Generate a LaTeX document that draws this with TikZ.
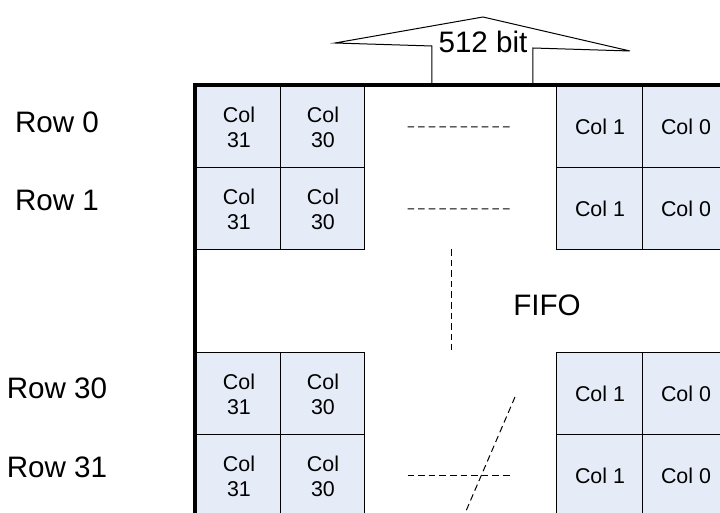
\documentclass[tikz,border=0pt]{standalone}
\usepackage{fontspec}
\setmainfont{Liberation Sans}
\usepackage{tikz}
\usetikzlibrary{positioning,calc}
\definecolor{cellblue}{RGB}{230,236,247}

\begin{document}
\begin{tikzpicture}[
  x=0.5pt, y=-0.5pt,
  cell/.style={draw=black, line width=0.5pt, fill=cellblue, minimum width=42pt, minimum height=41pt, inner sep=0pt, align=center, font=\fontsize{10.7}{12.5}\selectfont},
  wide/.style={minimum width=43pt},
  rowlabel/.style={font=\fontsize{14.8}{17}\selectfont},
  dots/.style={dash pattern=on 3.3pt off 2pt, line width=0.5pt},
  frame/.style={line width=2pt, line join=miter},
  bus/.style={draw, line width=0.5pt, fill=white}
]
\useasboundingbox (0,0) rectangle (720,513);
\clip (0,0) rectangle (720,513);

% row labels
\node[rowlabel] (row0) at (57,122) {Row 0};
\node[rowlabel] (row1) at (57,200) {Row 1};
\node[rowlabel] (row30) at (57,388) {Row 30};
\node[rowlabel] (row31) at (57,467) {Row 31};

% bus arrow on top
\path[bus] (432,85) -- (432,46) -- (335,43) -- (483,17) -- (630,51) -- (533,48) -- (533,85);
\node[rowlabel] (width) at (483,42) {512 bit};

% fifo cells
\node[cell] (r0c31) at (239,127) {Col\\31};
\node[cell] (r0c30) at (323,127) {Col\\30};
\node[cell, wide] (r0c1) at (600,127) {Col 1};
\node[cell, wide] (r0c0) at (686,127) {Col 0};

\node[cell] (r1c31) at (239,209) {Col\\31};
\node[cell] (r1c30) at (323,209) {Col\\30};
\node[cell, wide] (r1c1) at (600,209) {Col 1};
\node[cell, wide] (r1c0) at (686,209) {Col 0};

\node[cell] (r30c31) at (239,394) {Col\\31};
\node[cell] (r30c30) at (323,394) {Col\\30};
\node[cell, wide] (r30c1) at (600,394) {Col 1};
\node[cell, wide] (r30c0) at (686,394) {Col 0};

\node[cell] (r31c31) at (239,476) {Col\\31};
\node[cell] (r31c30) at (323,476) {Col\\30};
\node[cell, wide] (r31c1) at (600,476) {Col 1};
\node[cell, wide] (r31c0) at (686,476) {Col 0};

\node[rowlabel] (fifo) at (547,305) {FIFO};

% skipped columns and rows
\draw[dots] ($(r0c30.east)!0.22!(r0c1.west)$) -- ($(r0c30.east)!0.77!(r0c1.west)$);
\draw[dots] ($(r1c30.east)!0.22!(r1c1.west)$) -- ($(r1c30.east)!0.77!(r1c1.west)$);
\draw[dots] ($(r31c30.east)!0.22!(r31c1.west)$) -- ($(r31c30.east)!0.77!(r31c1.west)$);
\draw[dots] (452,249) -- (452,350);
\draw[dots] (515,397) -- (460,525);

% fifo frame
\draw[frame] (195,530) -- (195,85) -- (730,85);
\end{tikzpicture}
\end{document}
